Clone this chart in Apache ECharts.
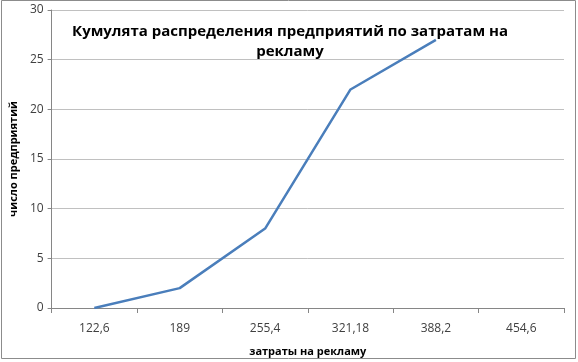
<!DOCTYPE html>
<html><head><meta charset="utf-8">
<script src="https://cdn.jsdelivr.net/npm/echarts@6/dist/echarts.min.js"></script>
<style>html,body{margin:0;padding:0;background:#fff}#c{width:578px;height:362px}</style>
</head><body><div id="c"></div>
<script>
const categories = ['122,6', '189', '255,4', '321,18', '388,2', '454,6'];
const values = [0, 2, 8, 22, 27, null];
const titleText = 'Кумулята распределения предприятий по затратам на\nрекламу';
const xName = 'затраты на рекламу';
const yName = 'число предприятий';

const chart = echarts.init(document.getElementById('c'));
const font = '"Open Sans", "DejaVu Sans", sans-serif';
chart.setOption({
  animation: false,
  textStyle: { fontFamily: font },
  graphic: [{
    type: 'rect', shape: { x: 1.5, y: 0.5, width: 574, height: 358 },
    style: { fill: 'none', stroke: '#8c8c8c', lineWidth: 1 }, z: -1
  }],
  title: {
    text: titleText, left: 285, top: 17, textAlign: 'center',
    textStyle: { fontSize: 15, fontWeight: 'bold', color: '#000', lineHeight: 20, fontFamily: font }
  },
  grid: { left: 42, right: 14, top: 10, bottom: 53 },
  xAxis: {
    type: 'category', data: categories, boundaryGap: true,
    name: xName, nameLocation: 'middle', nameGap: 38,
    nameTextStyle: { fontSize: 11, fontWeight: 'bold', color: '#000', fontFamily: font },
    axisLine: { lineStyle: { color: '#868686' } },
    axisTick: { show: true, alignWithLabel: false, length: 5, lineStyle: { color: '#868686' } },
    axisLabel: { fontSize: 12, color: '#404040', margin: 15, fontFamily: font },
    splitLine: { show: false }
  },
  yAxis: {
    type: 'value', min: 0, max: 30, interval: 5,
    name: yName, nameLocation: 'middle', nameGap: 26,
    nameTextStyle: { fontSize: 11, fontWeight: 'bold', color: '#000', fontFamily: font },
    axisLine: { show: true, lineStyle: { color: '#868686' } },
    axisTick: { show: true, length: 4, lineStyle: { color: '#868686' } },
    axisLabel: { fontSize: 12, color: '#404040', margin: 8, fontFamily: font },
    splitLine: { show: true, lineStyle: { color: '#c0c0c0' } }
  },
  series: [{
    type: 'line', data: values, showSymbol: false, symbol: 'none',
    lineStyle: { color: '#4A7EBB', width: 2.5 }, connectNulls: false
  }]
});
</script></body></html>
